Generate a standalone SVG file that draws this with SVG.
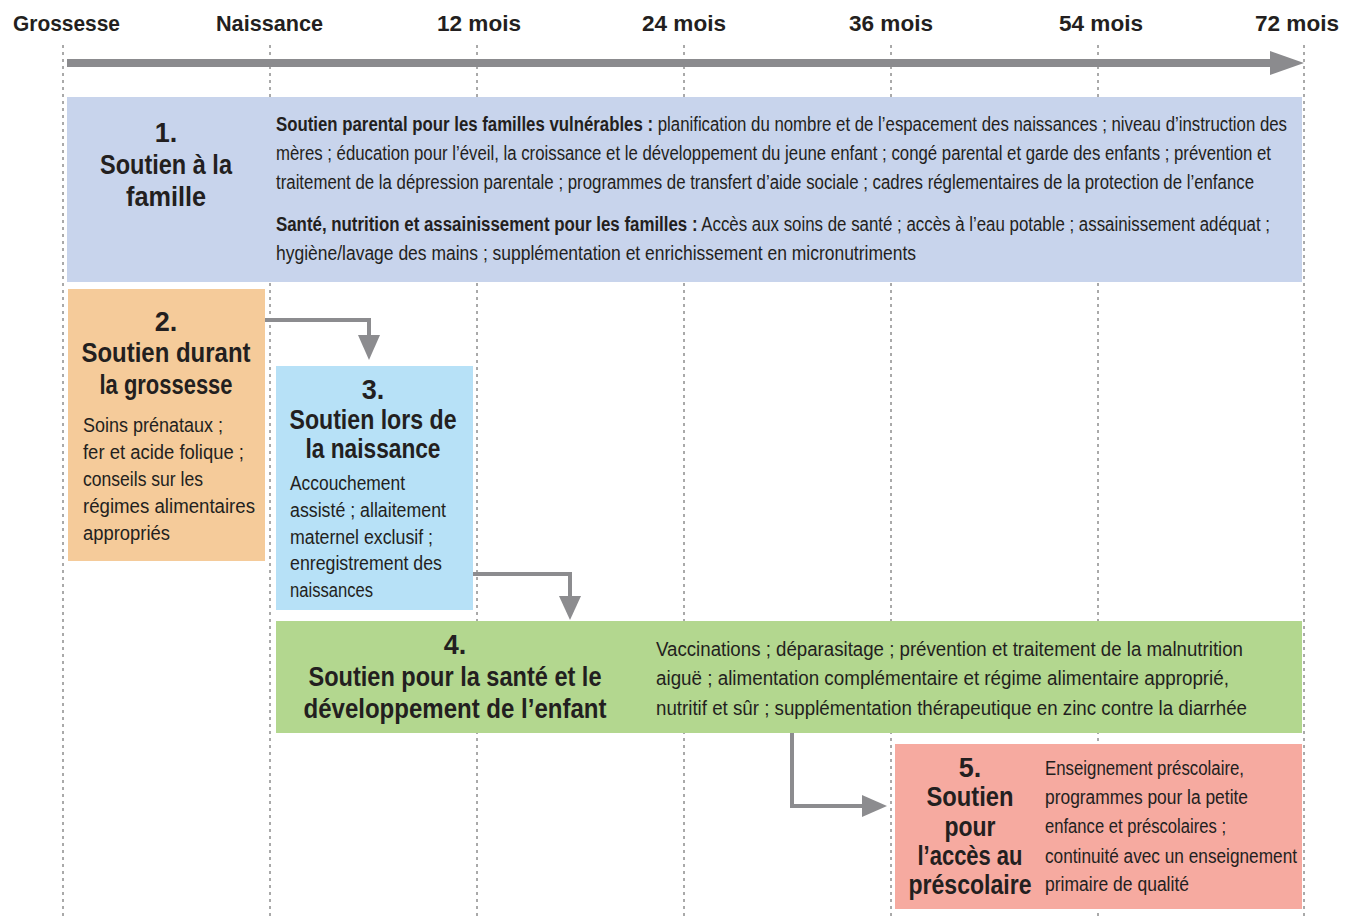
<svg xmlns="http://www.w3.org/2000/svg" width="1353" height="920" viewBox="0 0 1353 920">
<style>
text{font-family:"Liberation Sans",Arial,sans-serif;fill:#231f20}
.tl{font-size:22px;font-weight:bold}
.t{font-size:27px;font-weight:bold;text-anchor:middle}
.b{font-size:20px}
.bw{font-weight:bold}
.grid{stroke:#555;stroke-width:1;stroke-dasharray:3 4}
.conn{fill:none;stroke:#8c8c8f;stroke-width:4}
.head{fill:#8c8c8f}
</style>
<rect width="1353" height="920" fill="#fff"/>
<g id="grid">
<line class="grid" x1="63" y1="45" x2="63" y2="916"/>
<line class="grid" x1="270" y1="45" x2="270" y2="916"/>
<line class="grid" x1="477" y1="45" x2="477" y2="916"/>
<line class="grid" x1="684" y1="45" x2="684" y2="916"/>
<line class="grid" x1="891" y1="45" x2="891" y2="916"/>
<line class="grid" x1="1098" y1="45" x2="1098" y2="916"/>
<line class="grid" x1="1304" y1="45" x2="1304" y2="916"/>
</g>
<g id="timeline">
<text class="tl" x="13" y="31" textLength="107" lengthAdjust="spacingAndGlyphs">Grossesse</text>
<text class="tl" x="216" y="31" textLength="107" lengthAdjust="spacingAndGlyphs">Naissance</text>
<text class="tl" x="437" y="31" textLength="84" lengthAdjust="spacingAndGlyphs">12 mois</text>
<text class="tl" x="642" y="31" textLength="84" lengthAdjust="spacingAndGlyphs">24 mois</text>
<text class="tl" x="849" y="31" textLength="84" lengthAdjust="spacingAndGlyphs">36 mois</text>
<text class="tl" x="1059" y="31" textLength="84" lengthAdjust="spacingAndGlyphs">54 mois</text>
<text class="tl" x="1255" y="31" textLength="84" lengthAdjust="spacingAndGlyphs">72 mois</text>
<rect x="67" y="59" width="1204" height="8" fill="#8b8b8e"/>
<polygon points="1270,51 1304,63 1270,75" fill="#8b8b8e"/>
</g>
<g id="node1">
<rect x="67" y="97" width="1235" height="185" fill="#c8d4ec"/>
<text class="t" x="166" y="142">1.</text>
<text class="t" x="166" y="174" textLength="132" lengthAdjust="spacingAndGlyphs">Soutien à la</text>
<text class="t" x="166" y="206" textLength="80" lengthAdjust="spacingAndGlyphs">famille</text>
<text class="b" x="276" y="131" textLength="1011" lengthAdjust="spacingAndGlyphs"><tspan class="bw">Soutien parental pour les familles vulnérables :</tspan> planification du nombre et de l’espacement des naissances ; niveau d’instruction des</text>
<text class="b" x="276" y="160" textLength="995" lengthAdjust="spacingAndGlyphs">mères ; éducation pour l’éveil, la croissance et le développement du jeune enfant ; congé parental et garde des enfants ; prévention et</text>
<text class="b" x="276" y="189" textLength="978" lengthAdjust="spacingAndGlyphs">traitement de la dépression parentale ; programmes de transfert d’aide sociale ; cadres réglementaires de la protection de l’enfance</text>
<text class="b" x="276" y="231" textLength="994" lengthAdjust="spacingAndGlyphs"><tspan class="bw">Santé, nutrition et assainissement pour les familles :</tspan> Accès aux soins de santé ; accès à l’eau potable ; assainissement adéquat ;</text>
<text class="b" x="276" y="260" textLength="640" lengthAdjust="spacingAndGlyphs">hygiène/lavage des mains ; supplémentation et enrichissement en micronutriments</text>
</g>
<g id="node2">
<rect x="68" y="289" width="197" height="272" fill="#f5cb9a"/>
<text class="t" x="166" y="331">2.</text>
<text class="t" x="166" y="362" textLength="169" lengthAdjust="spacingAndGlyphs">Soutien durant</text>
<text class="t" x="166" y="394" textLength="133" lengthAdjust="spacingAndGlyphs">la grossesse</text>
<text class="b" x="83" y="432" textLength="140" lengthAdjust="spacingAndGlyphs">Soins prénataux ;</text>
<text class="b" x="83" y="459" textLength="161" lengthAdjust="spacingAndGlyphs">fer et acide folique ;</text>
<text class="b" x="83" y="486" textLength="120" lengthAdjust="spacingAndGlyphs">conseils sur les</text>
<text class="b" x="83" y="513" textLength="172" lengthAdjust="spacingAndGlyphs">régimes alimentaires</text>
<text class="b" x="83" y="540" textLength="87" lengthAdjust="spacingAndGlyphs">appropriés</text>
</g>
<g id="node3">
<rect x="276" y="366" width="197" height="244" fill="#b7e1f7"/>
<text class="t" x="373" y="399">3.</text>
<text class="t" x="373" y="429" textLength="167" lengthAdjust="spacingAndGlyphs">Soutien lors de</text>
<text class="t" x="373" y="458" textLength="135" lengthAdjust="spacingAndGlyphs">la naissance</text>
<text class="b" x="290" y="490" textLength="115" lengthAdjust="spacingAndGlyphs">Accouchement</text>
<text class="b" x="290" y="517" textLength="156" lengthAdjust="spacingAndGlyphs">assisté ; allaitement</text>
<text class="b" x="290" y="544" textLength="143" lengthAdjust="spacingAndGlyphs">maternel exclusif ;</text>
<text class="b" x="290" y="570" textLength="152" lengthAdjust="spacingAndGlyphs">enregistrement des</text>
<text class="b" x="290" y="597" textLength="83" lengthAdjust="spacingAndGlyphs">naissances</text>
</g>
<g id="node4">
<rect x="276" y="621" width="1026" height="112" fill="#b3d78f"/>
<text class="t" x="455" y="654">4.</text>
<text class="t" x="455" y="686" textLength="293" lengthAdjust="spacingAndGlyphs">Soutien pour la santé et le</text>
<text class="t" x="455" y="718" textLength="303" lengthAdjust="spacingAndGlyphs">développement de l’enfant</text>
<text class="b" x="656" y="656" textLength="587" lengthAdjust="spacingAndGlyphs">Vaccinations ; déparasitage ; prévention et traitement de la malnutrition</text>
<text class="b" x="656" y="685" textLength="573" lengthAdjust="spacingAndGlyphs">aiguë ; alimentation complémentaire et régime alimentaire approprié,</text>
<text class="b" x="656" y="715" textLength="591" lengthAdjust="spacingAndGlyphs">nutritif et sûr ; supplémentation thérapeutique en zinc contre la diarrhée</text>
</g>
<g id="node5">
<rect x="895" y="744" width="407" height="165" fill="#f6aaa0"/>
<text class="t" x="970" y="777">5.</text>
<text class="t" x="970" y="806" textLength="87" lengthAdjust="spacingAndGlyphs">Soutien</text>
<text class="t" x="970" y="836" textLength="51" lengthAdjust="spacingAndGlyphs">pour</text>
<text class="t" x="970" y="865" textLength="105" lengthAdjust="spacingAndGlyphs">l’accès au</text>
<text class="t" x="970" y="894" textLength="123" lengthAdjust="spacingAndGlyphs">préscolaire</text>
<text class="b" x="1045" y="775" textLength="199" lengthAdjust="spacingAndGlyphs">Enseignement préscolaire,</text>
<text class="b" x="1045" y="804" textLength="203" lengthAdjust="spacingAndGlyphs">programmes pour la petite</text>
<text class="b" x="1045" y="833" textLength="181" lengthAdjust="spacingAndGlyphs">enfance et préscolaires ;</text>
<text class="b" x="1045" y="863" textLength="252" lengthAdjust="spacingAndGlyphs">continuité avec un enseignement</text>
<text class="b" x="1045" y="891" textLength="144" lengthAdjust="spacingAndGlyphs">primaire de qualité</text>
</g>
<g id="connectors">
<polyline class="conn" points="265,320 369,320 369,337"/>
<polygon class="head" points="358,335 380,335 369,360"/>
<polyline class="conn" points="473,574 570,574 570,598"/>
<polygon class="head" points="559,596 581,596 570,620"/>
<polyline class="conn" points="792,733 792,806 864,806"/>
<polygon class="head" points="862,795 862,817 887,806"/>
</g>
</svg>
